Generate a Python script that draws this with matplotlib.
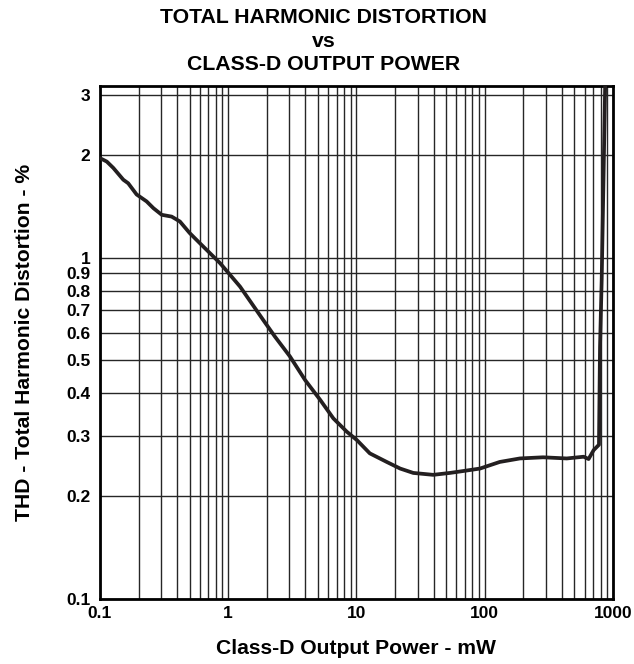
import matplotlib
matplotlib.use("Agg")
import matplotlib.pyplot as plt
from matplotlib.ticker import FixedLocator, NullFormatter

plt.rcParams['font.family'] = ['Liberation Sans', 'DejaVu Sans']
plt.rcParams['font.weight'] = 'bold'

# curve: output power (mW) vs THD (%)
power_mw = [0.1, 0.113, 0.127, 0.152, 0.166, 0.193, 0.231, 0.261, 0.303, 0.362,
            0.42, 0.50, 0.603, 0.72, 0.863, 1.033, 1.236, 1.52, 1.87, 2.31,
            3.03, 3.97, 5.21, 6.6, 8.4, 10.07, 12.7, 17.2, 21.9, 27.7,
            39.6, 53.5, 67.9, 91.8, 131, 188, 285, 436, 590, 645,
            707, 777, 792, 816, 870]
thd_pct = [1.955, 1.91, 1.83, 1.69, 1.65, 1.53, 1.46, 1.395, 1.334, 1.318,
           1.275, 1.18, 1.10, 1.03, 0.963, 0.89, 0.822, 0.735, 0.657, 0.587,
           0.513, 0.438, 0.383, 0.338, 0.309, 0.292, 0.267, 0.252, 0.241, 0.234,
           0.231, 0.234, 0.237, 0.241, 0.252, 0.258, 0.26, 0.258, 0.261, 0.257,
           0.273, 0.283, 0.548, 0.86, 3.3]

x_ticks = [0.1, 1, 10, 100, 1000]
x_labels = ['0.1', '1', '10', '100', '1000']
y_ticks = [0.1, 0.2, 0.3, 0.4, 0.5, 0.6, 0.7, 0.8, 0.9, 1, 2, 3]
y_labels = ['0.1', '0.2', '0.3', '0.4', '0.5', '0.6', '0.7', '0.8', '0.9', '1', '2', '3']
x_minor = [m * d for d in [0.1, 1, 10, 100] for m in range(2, 10)]

fig = plt.figure(figsize=(6.34, 6.64), dpi=100)
ax = fig.add_axes([0.1577, 0.0979, 0.8092, 0.7726])
ax.set_xscale('log')
ax.set_yscale('log')
ax.set_xlim(0.1, 1000)
ax.set_ylim(0.1, 3.18)

ax.xaxis.set_major_locator(FixedLocator(x_ticks))
ax.xaxis.set_minor_locator(FixedLocator(x_minor))
ax.xaxis.set_minor_formatter(NullFormatter())
ax.set_xticklabels(x_labels)
ax.yaxis.set_major_locator(FixedLocator(y_ticks))
ax.yaxis.set_minor_locator(FixedLocator([]))
ax.set_yticklabels(y_labels)

ax.grid(True, which='both', axis='x', color='#262626', lw=1.0)
ax.grid(True, which='major', axis='y', color='#262626', lw=1.0)
ax.tick_params(which='both', length=0, labelsize=12.5)
ax.tick_params(axis='y', pad=7)
ax.tick_params(axis='x', pad=5)

for sp in ax.spines.values():
    sp.set_linewidth(2)

ax.plot(power_mw, thd_pct, color='#231f20', lw=2.7, solid_capstyle='round',
        solid_joinstyle='round', clip_on=True, zorder=3)

ax.set_xlabel('Class-D Output Power - mW', fontsize=15.2, fontweight='bold', labelpad=13)
ax.set_ylabel('THD - Total Harmonic Distortion - %', fontsize=15.2, fontweight='bold', labelpad=23)
fig.text(0.51, 0.973, 'TOTAL HARMONIC DISTORTION', ha='center', va='center', fontsize=15.3, fontweight='bold')
fig.text(0.51, 0.938, 'vs', ha='center', va='center', fontsize=15.3, fontweight='bold')
fig.text(0.51, 0.903, 'CLASS-D OUTPUT POWER', ha='center', va='center', fontsize=15.3, fontweight='bold')

fig.savefig('out.png', dpi=100)
